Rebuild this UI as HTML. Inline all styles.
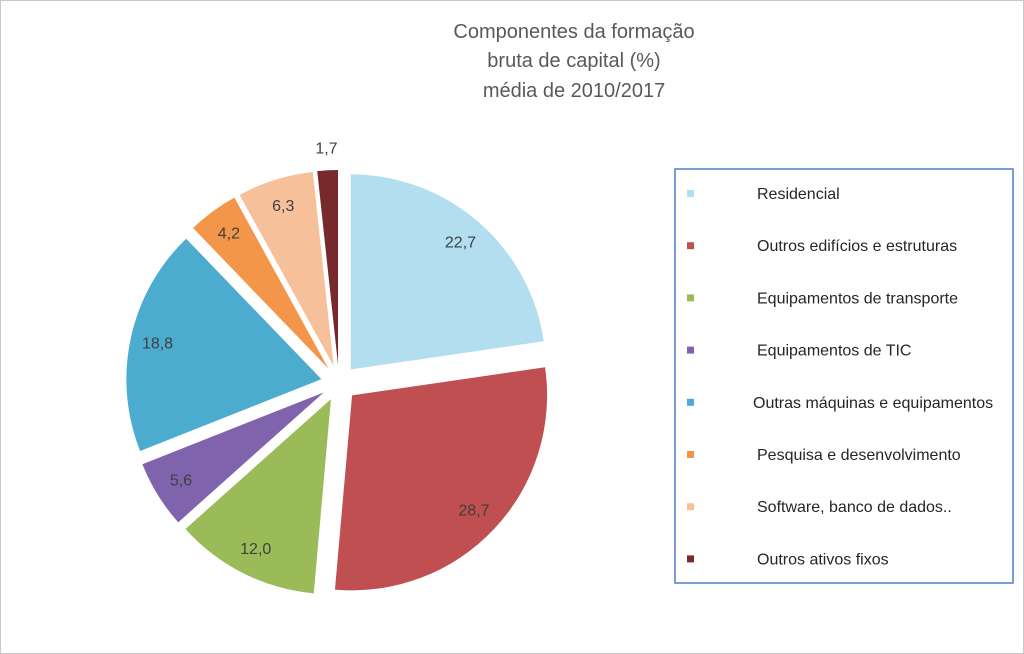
<!DOCTYPE html>
<html><head><meta charset="utf-8"><style>
body{margin:0;background:#fff;}
#wrap{position:relative;width:1022px;height:652px;border:1px solid #c8c8c8;overflow:hidden;font-family:"Liberation Sans",sans-serif;}
svg text{font-family:"Liberation Sans",sans-serif;}
</style></head><body>
<div id="wrap">
<svg id="chart" width="1022" height="652">
<text x="573" y="37" text-anchor="middle" font-size="20" fill="#595959">Componentes da formação</text>
<text x="573" y="66" text-anchor="middle" font-size="20" fill="#595959">bruta de capital (%)</text>
<text x="573" y="96" text-anchor="middle" font-size="20" fill="#595959">média de 2010/2017</text>
<rect x="674" y="168" width="338" height="414" fill="#fff" stroke="#4f7ec0" stroke-width="1.5"/>
<g id="slices"></g><g id="labels"></g><g id="legend"></g>
</svg>
</div>
<script>
const categories=["Residencial","Outros edifícios e estruturas","Equipamentos de transporte","Equipamentos de TIC","Outras máquinas e equipamentos","Pesquisa e desenvolvimento","Software, banco de dados..","Outros ativos fixos"];
const values=[22.7,28.7,12.0,5.6,18.8,4.2,6.3,1.7];
const valueLabels=["22,7","28,7","12,0","5,6","18,8","4,2","6,3","1,7"];
const colors=["#b3def0","#bf4f51","#9bbb59","#7f63ad","#4bacd0","#f3964a","#f6c09a","#772a2c"];
const NS="http://www.w3.org/2000/svg";
const cx=338,cy=382,R=195,explode=18;
const total=values.reduce((a,b)=>a+b,0);
function pt(a,r,ox,oy){return [ox+r*Math.sin(a),oy-r*Math.cos(a)];}
let acc=0;
const gS=document.getElementById('slices'),gL=document.getElementById('labels'),gG=document.getElementById('legend');
values.forEach((v,i)=>{
 const a0=acc/total*2*Math.PI; acc+=v; const a1=acc/total*2*Math.PI; const am=(a0+a1)/2;
 const ox=cx+explode*Math.sin(am), oy=cy-explode*Math.cos(am);
 const p0=pt(a0,R,ox,oy),p1=pt(a1,R,ox,oy);
 const large=(a1-a0)>Math.PI?1:0;
 const p=document.createElementNS(NS,'path');
 p.setAttribute('d',`M${ox},${oy}L${p0[0]},${p0[1]}A${R},${R} 0 ${large} 1 ${p1[0]},${p1[1]}Z`);
 p.setAttribute('fill',colors[i]);
 
 
 gS.appendChild(p);
 const t=document.createElementNS(NS,'text');
 const lr=(v<3)?R+22:R*0.86;
 const lp=pt(am,lr,ox,oy);
 t.setAttribute('x',lp[0]);t.setAttribute('y',lp[1]+5);
 t.setAttribute('text-anchor','middle');t.setAttribute('font-size','16');t.setAttribute('fill','#404040');
 t.textContent=valueLabels[i];
 
 
 gL.appendChild(t);
 const y=193+i*52.2;
 const s=document.createElementNS(NS,'rect');
 s.setAttribute('x',686);s.setAttribute('y',y-4);s.setAttribute('width',7);s.setAttribute('height',7);s.setAttribute('fill',colors[i]);
 
 
 gG.appendChild(s);
 const lt=document.createElementNS(NS,'text');
 lt.setAttribute('x',i==4?752:756);lt.setAttribute('y',y+5);lt.setAttribute('font-size','16');lt.setAttribute('fill','#262626');
 lt.textContent=categories[i];
 
 
 gG.appendChild(lt);
});
</script>
</body></html>
